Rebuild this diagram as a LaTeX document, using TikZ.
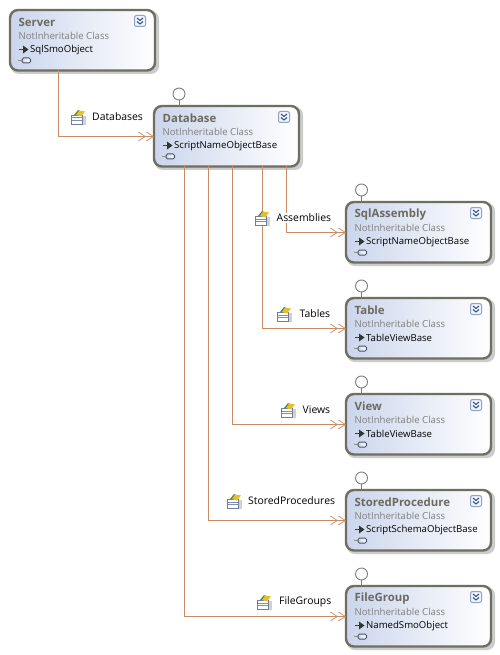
\documentclass[tikz,border=0pt]{standalone}
\usepackage{fontspec}
\setmainfont{Open Sans}
\usetikzlibrary{arrows.meta,calc}
\definecolor{edgeC}{HTML}{C98B63}
\definecolor{frameC}{HTML}{6E6E62}
\definecolor{blueL}{HTML}{CBD6EC}
\definecolor{titleC}{HTML}{6A6A60}
\definecolor{subC}{HTML}{7F7F7F}
\definecolor{lolliC}{HTML}{7F7F78}
\definecolor{btnEdge}{HTML}{8FA5C8}
\definecolor{btnFill}{HTML}{EEF2FA}
\definecolor{btnMark}{HTML}{2E4C86}
\definecolor{memEdge}{HTML}{4A5568}
\definecolor{iconEdge}{HTML}{6F7F9A}
\definecolor{iconStripe}{HTML}{7C8FB5}
\definecolor{iconGold}{HTML}{E3C02F}
\definecolor{iconGreen}{HTML}{5E8A3C}
\tikzset{
 x=1pt,y=-1pt,
 classbox/.style={rectangle,rounded corners=8pt,minimum width=145pt,minimum height=60.5pt,inner sep=0pt,outer sep=0pt,draw=frameC,line width=2.4pt,left color=blueL,right color=white,shading angle=90},
 boxshadow/.style={fill=black!20,rounded corners=8pt},
 titletext/.style={anchor=west,inner sep=0pt,font=\fontsize{11.4}{12}\selectfont\bfseries,text=titleC},
 subtext/.style={anchor=west,inner sep=0pt,font=\fontsize{9.6}{12}\selectfont,text=subC},
 basetext/.style={anchor=west,inner sep=0pt,font=\fontsize{9.6}{12}\selectfont,text=black},
 lbl/.style={anchor=west,inner sep=1pt,fill=white,font=\fontsize{10.4}{12}\selectfont,text=black},
 conn/.style={draw=edgeC,line width=1pt,-{Straight Barb[length=7pt,width=9pt,line width=.7pt]Straight Barb[length=7pt,width=9pt,line width=.7pt]}},
 lolli/.style={draw=lolliC,line width=.9pt,fill=white},
}
% name, left x, top y, title, base
\newcommand\classnode[5]{%
 \fill[boxshadow] (#2+1,#3+1) rectangle ++(148,63);
 \node[classbox,anchor=north west] (#1) at (#2,#3) {};
 \node[titletext] (#1t) at (#2+8.5,#3+12.5) {#4};
 \node[subtext] (#1s) at (#2+8.5,#3+26) {NotInheritable Class};
 \node[basetext] (#1b) at (#2+20,#3+40) {#5};
 % inheritance arrow glyph
 \draw[black!75,line width=1.3pt] (#2+9,#3+39.5) -- (#2+15,#3+39.5);
 \fill[black!80] (#2+13,#3+35.5) -- (#2+18.5,#3+39.5) -- (#2+13,#3+43.5) -- cycle;
 % collapse button
 \draw[draw=btnEdge,fill=btnFill,line width=1pt,rounded corners=2pt] (#2+124.5,#3+5.5) rectangle ++(11,11);
 \draw[btnMark,line width=1pt] (#2+127,#3+8) -- (#2+130,#3+10.5) -- (#2+133,#3+8);
 \draw[btnMark,line width=1pt] (#2+127,#3+11.5) -- (#2+130,#3+14) -- (#2+133,#3+11.5);
 % small member icon
 \draw[black!45,line width=.8pt] (#2+8,#3+50.5) -- (#2+12,#3+50.5);
 \draw[draw=memEdge,left color=blueL,right color=white,line width=1pt,rounded corners=1.5pt] (#2+12,#3+48) rectangle ++(8.5,5);
}
% name, x, y
\newcommand\lollipop[3]{%
 \draw[lolliC,line width=.9pt] (#2,#3+6) -- (#2,#3+12);
 \node[circle,lolli,minimum size=12pt,inner sep=0pt] (#1) at (#2,#3) {};
}
% x, y of the icon centre
\newcommand\propicon[2]{%
 \fill[black!18] (#1-6,#2-1) rectangle ++(14,9);
 \draw[iconEdge,fill=white,line width=.6pt] (#1-7,#2-2) rectangle ++(11.5,9);
 \fill[iconStripe] (#1-6,#2+.5) rectangle ++(9.5,1);
 \fill[iconStripe] (#1-6,#2+3) rectangle ++(9.5,1);
 \fill[iconGreen] (#1-4,#2-2) -- (#1,#2-7) -- (#1+2,#2-6) -- (#1-1,#2-2) -- cycle;
 \fill[iconGold] (#1-2,#2-2) -- (#1+1,#2-6.5) -- (#1+7,#2-5.5) -- (#1+3,#2-.5) -- cycle;
}
\begin{document}
\begin{tikzpicture}
\useasboundingbox (0,0) rectangle (499,655);
\fill[white] (0,0) rectangle (499,655);

\classnode{server}{10}{10}{Server}{SqlSmoObject}
\classnode{database}{154}{106}{Database}{ScriptNameObjectBase}
\classnode{sqlassembly}{346}{202}{SqlAssembly}{ScriptNameObjectBase}
\classnode{table}{346}{298}{Table}{TableViewBase}
\classnode{view}{346}{394}{View}{TableViewBase}
\classnode{storedproc}{346}{490}{StoredProcedure}{ScriptSchemaObjectBase}
\classnode{filegroup}{346}{586}{FileGroup}{NamedSmoObject}

\lollipop{ldb}{179}{94}
\lollipop{lsa}{361.5}{190}
\lollipop{lta}{361.5}{286}
\lollipop{lvi}{361.5}{382}
\lollipop{lsp}{361.5}{478}
\lollipop{lfg}{361.5}{574}

\coordinate (c1) at (58,136.5);
\coordinate (c2) at (286,232.5);
\coordinate (c3) at (262,328.5);
\coordinate (c4) at (232,424.5);
\coordinate (c5) at (208,520.5);
\coordinate (c6) at (184,616.5);

\draw[conn] (server.south -| c1) -- (c1) -- (c1 -| database.west);
\draw[conn] (database.south -| c6) -- (c6) -- (c6 -| filegroup.west);
\draw[conn] (database.south -| c5) -- (c5) -- (c5 -| storedproc.west);
\draw[conn] (database.south -| c4) -- (c4) -- (c4 -| view.west);
\draw[conn] (database.south -| c3) -- (c3) -- (c3 -| table.west);
\draw[conn] (database.south -| c2) -- (c2) -- (c2 -| sqlassembly.west);

\node[lbl] (l1) at (91,117) {Databases};
\propicon{78}{117}
\node[lbl] (l2) at (275.5,218) {Assemblies};
\propicon{262}{218}
\node[lbl] (l3) at (298.5,314) {Tables};
\propicon{284}{314}
\node[lbl] (l4) at (301.5,410) {Views};
\propicon{288}{410}
\node[lbl] (l5) at (247,501) {StoredProcedures};
\propicon{234}{501}
\node[lbl] (l6) at (278,602) {FileGroups};
\propicon{264}{602}
\end{tikzpicture}
\end{document}
